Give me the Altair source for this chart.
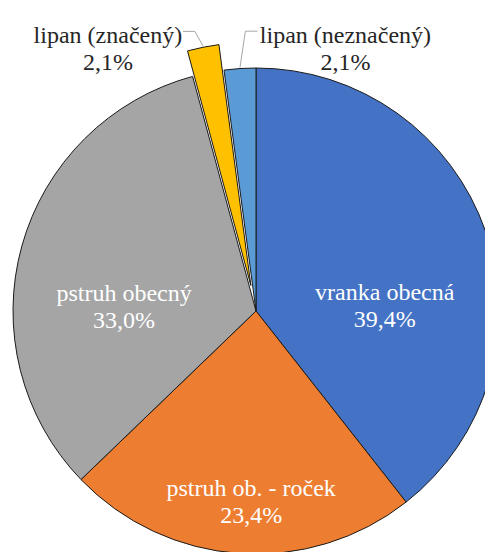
import math
import altair as alt
import pandas as pd

# ---- data ----
categories = ["vranka obecná", "pstruh ob. - roček", "pstruh obecný", "lipan (značený)", "lipan (neznačený)"]
shares = [39.4, 23.4, 33.0, 2.1, 2.1]
colors = ["#4472C4", "#ED7D31", "#A5A5A5", "#FFC000", "#5B9BD5"]

# ---- layout / style ----
W, H = 477, 544
CX, CY = 248, 303
R = 243
EXPLODE = {"lipan (značený)": 26}
# label placement: (angle nudge from slice middle in degrees, distance from centre in px)
LABEL_POLAR = {
    "vranka obecná": (11.1, 130),
    "pstruh ob. - roček": (-2.4, 178),
    "pstruh obecný": (-8.1, 133),
    "lipan (značený)": (-17.0, 312),
    "lipan (neznačený)": (21.8, 289),
}
INSIDE = {"vranka obecná", "pstruh ob. - roček", "pstruh obecný"}
FONT = "Liberation Serif, Times New Roman, serif"
FS = 24
LH = 27

total = sum(shares)
rows = []
cum = 0.0
mids = {}
for i, (c, v) in enumerate(zip(categories, shares)):
    mid = (cum + v / 2) / total * 2 * math.pi
    mids[c] = mid
    cum += v
    nud, lr = LABEL_POLAR[c]
    a = mid + math.radians(nud)
    lab = c + "\n" + f"{v:.1f}".replace(".", ",") + "%"
    rows.append({
        "category": c, "share": v, "order": i, "label": lab,
        "lx": CX + lr * math.sin(a), "ly": CY - lr * math.cos(a),
        "inside": c in INSIDE, "explode": EXPLODE.get(c, 0),
    })
df = pd.DataFrame(rows)

# explosion offset for the pulled-out slice
ex_cat = "lipan (značený)"
ex_dx = EXPLODE[ex_cat] * math.sin(mids[ex_cat])
ex_dy = -EXPLODE[ex_cat] * math.cos(mids[ex_cat])

# leader lines (label -> slice edge)
lead_rows = []
for c, side, hw in [("lipan (značený)", 1, 72), ("lipan (neznačený)", -1, 85)]:
    r = df[df.category == c].iloc[0]
    ly = r["ly"] - 5
    ex = EXPLODE.get(c, 0)
    edge_x = CX + (R + ex) * math.sin(mids[c])
    edge_y = CY - (R + ex) * math.cos(mids[c])
    pts = [(r["lx"] + side * (hw + 3), ly), (r["lx"] + side * (hw + 15), ly), (edge_x, edge_y - 1)]
    for j, (x, y) in enumerate(pts):
        lead_rows.append({"category": c, "i": j, "x": x, "y": y})
lead = pd.DataFrame(lead_rows)

theta = alt.Theta("share:Q", stack=True)
color = alt.Color("category:N", scale=alt.Scale(domain=categories, range=colors), legend=None)
order = alt.Order("order:Q")

base = alt.Chart(df)
pie = base.mark_arc(radius=R, stroke="#1a1a1a", strokeWidth=1).encode(
    theta=theta, color=color, order=order,
    x=alt.value(CX), y=alt.value(CY),
    opacity=alt.condition("datum.explode > 0", alt.value(0), alt.value(1)),
)
pulled = base.mark_arc(radius=R, stroke="#1a1a1a", strokeWidth=1).encode(
    theta=theta, color=color, order=order,
    x=alt.value(CX + ex_dx), y=alt.value(CY + ex_dy),
    opacity=alt.condition("datum.explode > 0", alt.value(1), alt.value(0)),
)

txt_in = base.transform_filter("datum.inside").mark_text(
    font=FONT, fontSize=FS, lineBreak="\n", lineHeight=LH, align="center", baseline="middle", color="white"
).encode(x=alt.X("lx:Q", scale=None), y=alt.Y("ly:Q", scale=None), text="label:N")
txt_out = base.transform_filter("!datum.inside").mark_text(
    font=FONT, fontSize=FS, lineBreak="\n", lineHeight=LH, align="center", baseline="middle", color="#262626"
).encode(x=alt.X("lx:Q", scale=None), y=alt.Y("ly:Q", scale=None), text="label:N")

leaders = alt.Chart(lead).mark_line(color="#A6A6A6", strokeWidth=1).encode(
    x=alt.X("x:Q", scale=None), y=alt.Y("y:Q", scale=None), detail="category:N", order="i:Q"
)

chart = alt.layer(pie, pulled, leaders, txt_in, txt_out).properties(
    width=W, height=H, padding=0, autosize="none", background="white"
).configure_view(stroke=None)

chart.save("out.html", embed_options={"renderer": "svg", "actions": False})
